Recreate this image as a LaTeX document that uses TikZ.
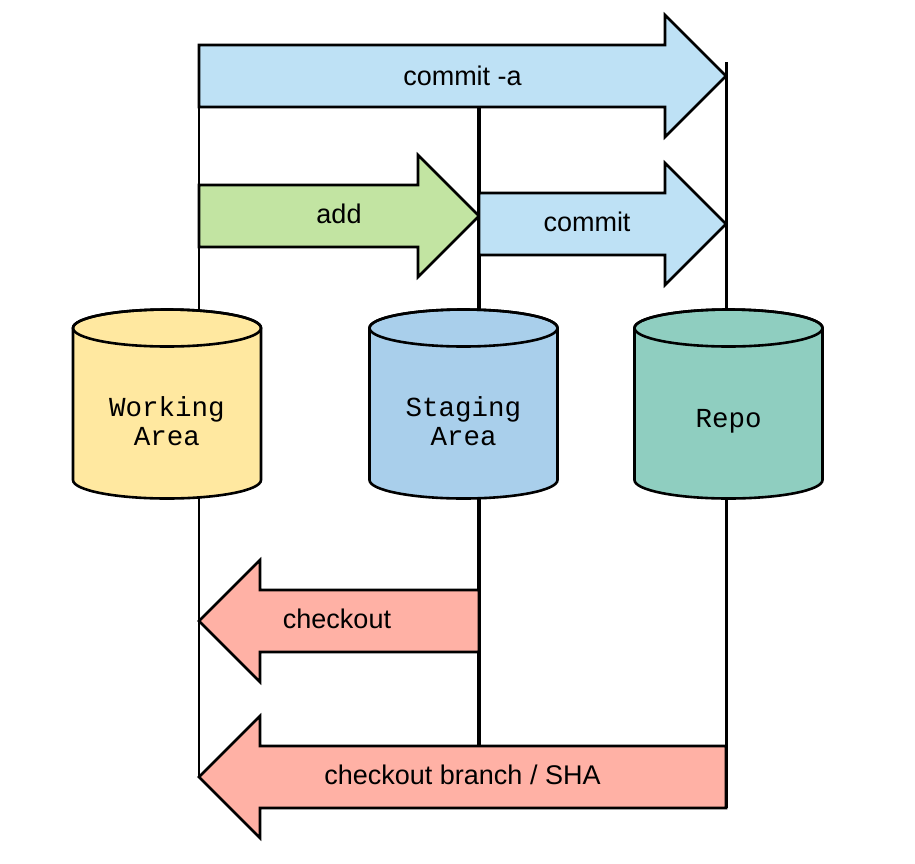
\documentclass[tikz,border=0pt]{standalone}
\usepackage{fontspec}
\setmainfont{Liberation Sans}
\newfontfamily\cylfont{Liberation Mono}
\definecolor{cblue}{HTML}{BEE1F5}
\definecolor{agreen}{HTML}{C2E4A2}
\definecolor{salmon}{HTML}{FFB1A5}
\definecolor{wyellow}{HTML}{FFE8A0}
\definecolor{sblue}{HTML}{A9CFEB}
\definecolor{rteal}{HTML}{8FCEC0}
\tikzset{
  arrowshape/.style={draw=black, line width=2.6pt, line join=miter},
  arrowlabel/.style={font=\fontsize{27}{30}\selectfont, inner sep=0pt},
  cylshape/.style={draw=black, line width=2.6pt},
  cyllabel/.style={font=\cylfont\fontsize{27.5}{28.5}\selectfont, align=center, inner sep=0pt},
  vline/.style={draw=black}
}
\begin{document}
\begin{tikzpicture}[x=1pt,y=-1pt]
\useasboundingbox (0,0) rectangle (915,863);
% vertical lines
\coordinate (wtop) at (199,45);
\coordinate (wbot) at (199,777);
\coordinate (stop) at (479,107);
\coordinate (sbot) at (479,746);
\coordinate (rtop) at (726,62);
\coordinate (rbot) at (726,808);
\draw[vline, line width=2pt] (wtop) -- (wbot);
\draw[vline, line width=4pt] (stop) -- (sbot);
\draw[vline, line width=3pt] (rtop) -- (rbot);
% commit -a
\path[arrowshape, fill=cblue] (199,45) -- (665,45) -- (665,15) -- (726,76) -- (665,137) -- (665,107) -- (199,107) -- cycle;
\node[arrowlabel] (commita) at (462.5,76) {commit -a};
% add
\path[arrowshape, fill=agreen] (199,185) -- (418,185) -- (418,155) -- (479,216) -- (418,277) -- (418,247) -- (199,247) -- cycle;
\node[arrowlabel] (add) at (339,214) {add};
% commit
\path[arrowshape, fill=cblue] (479,193) -- (665,193) -- (665,163) -- (726,224) -- (665,285) -- (665,255) -- (479,255) -- cycle;
\node[arrowlabel] (commit) at (587,222) {commit};
% checkout
\path[arrowshape, fill=salmon] (479,590) -- (260,590) -- (260,560) -- (199,621) -- (260,682) -- (260,652) -- (479,652) -- cycle;
\node[arrowlabel] (checkout) at (337,619) {checkout};
% checkout branch / SHA
\path[arrowshape, fill=salmon] (726,746) -- (260,746) -- (260,716) -- (199,777) -- (260,838) -- (260,808) -- (726,808) -- cycle;
\node[arrowlabel] (cbranch) at (462.5,775) {checkout branch / SHA};
% cylinders
\foreach \cx/\col in {167/wyellow, 463.5/sblue, 728.5/rteal} {
  \path[cylshape, fill=\col] (\cx-94,328) -- (\cx-94,480)
    arc[start angle=180, end angle=360, x radius=94pt, y radius=18.5pt]
    -- (\cx+94,328)
    arc[start angle=0, end angle=180, x radius=94pt, y radius=18.5pt] -- cycle;
  \draw[cylshape] (\cx,328) ellipse[x radius=94pt, y radius=18.5pt];
}
\node[cyllabel] (work) at (167,421) {Working\\Area};
\node[cyllabel] (stage) at (463.5,421) {Staging\\Area};
\node[cyllabel] (repo) at (728.5,421) {Repo};
\end{tikzpicture}
\end{document}
